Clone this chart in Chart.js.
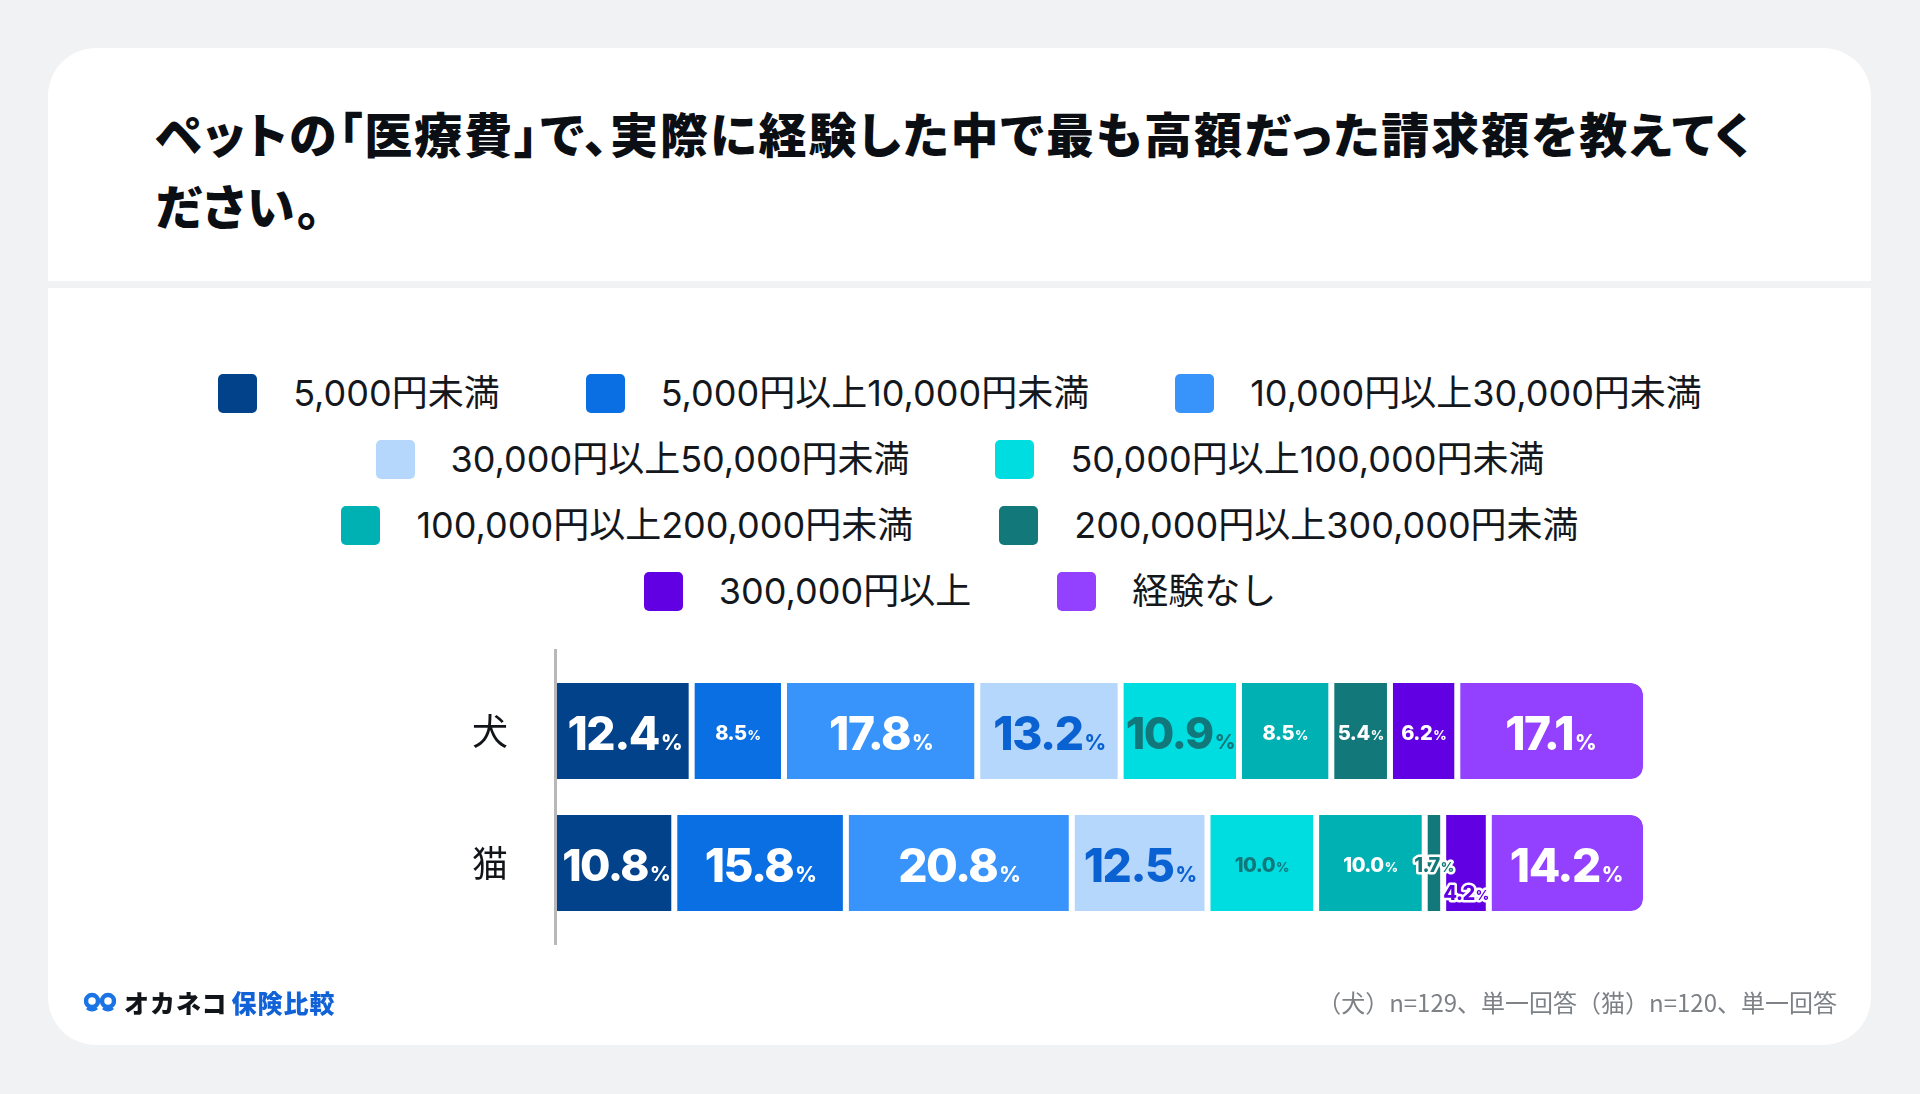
<!DOCTYPE html>
<html lang="ja">
<head>
<meta charset="utf-8">
<script src="https://cdn.jsdelivr.net/npm/chart.js@4.4.1/dist/chart.umd.min.js"></script>
<style>
html,body{margin:0;padding:0;width:1920px;height:1094px;background:#f1f2f4;overflow:hidden;font-family:"Inter","Noto Sans CJK JP",sans-serif;}
#card{position:absolute;left:48px;top:48px;width:1823px;height:997px;background:#fff;border-radius:48px;overflow:hidden;}
#stripe{position:absolute;left:0;top:233px;width:100%;height:7px;background:#f1f2f4;}
#title{position:absolute;left:107px;top:48px;margin:0;font-family:"Noto Sans CJK JP",sans-serif;font-weight:900;font-size:48px;line-height:72px;letter-spacing:2px;color:#0b0f14;font-feature-settings:"palt";white-space:nowrap;}
#legend{position:absolute;left:0;top:360px;width:1920px;}
.lrow{display:flex;justify-content:center;align-items:center;height:66px;gap:86px;}
.litem{display:flex;align-items:center;}
.lbox{width:39px;height:39px;border-radius:5px;margin-right:36px;flex:none;}
.ltext{font-family:"Inter","Noto Sans CJK JP",sans-serif;font-size:36px;line-height:1;color:#14181d;white-space:nowrap;}
#chartWrap{position:absolute;left:0;top:590px;width:1920px;height:414px;}
#logo{position:absolute;left:84px;top:985px;height:34px;display:flex;align-items:center;font-family:"Noto Sans CJK JP",sans-serif;font-weight:900;font-size:25px;letter-spacing:1px;}
#logo .k{color:#111418;margin-left:8px;}
#logo .h{color:#1062d6;margin-left:4px;}
#note{position:absolute;right:83px;top:986px;height:32px;line-height:32px;font-family:"Noto Sans CJK JP",sans-serif;font-size:24px;color:#7d8186;white-space:nowrap;}
</style>
</head>
<body>
<div id="card">
  <h1 id="title">ペットの「医療費」で、実際に経験した中で最も高額だった請求額を教えてく<br>ださい。</h1>
  <div id="stripe"></div>
</div>
<div id="legend"></div>
<div id="chartWrap"><canvas id="chart"></canvas></div>
<div id="logo">
  <svg width="32" height="22" viewBox="0 0 32 22"><circle cx="8" cy="10" r="6" fill="none" stroke="#1b74e4" stroke-width="4.5"/><circle cx="24" cy="10" r="6" fill="none" stroke="#1b74e4" stroke-width="4.5"/><path d="M3 17 Q8 21 13 17 M19 17 Q24 21 29 17" fill="none" stroke="#1b74e4" stroke-width="3"/></svg>
  <span class="k">オカネコ</span><span class="h">保険比較</span>
</div>
<div id="note">（犬）n=129、単一回答（猫）n=120、単一回答</div>
<script>
// ---- data ----
const categories = ['犬', '猫'];
const seriesLabels = [
  '5,000円未満',
  '5,000円以上10,000円未満',
  '10,000円以上30,000円未満',
  '30,000円以上50,000円未満',
  '50,000円以上100,000円未満',
  '100,000円以上200,000円未満',
  '200,000円以上300,000円未満',
  '300,000円以上',
  '経験なし'
];
const dogValues = [12.4, 8.5, 17.8, 13.2, 10.9, 8.5, 5.4, 6.2, 17.1];
const catValues = [10.8, 15.8, 20.8, 12.5, 10.0, 10.0, 1.7, 4.2, 14.2];

// ---- styles ----
const seriesColors = ['#02428b', '#0a6fe2', '#3894fa', '#b6d7fc', '#00dde1', '#00b1b3', '#12787a', '#6200e4', '#9340ff'];
const labelColors  = ['#ffffff', '#ffffff', '#ffffff', '#0a62d2', '#12777a', '#ffffff', '#ffffff', '#ffffff', '#ffffff'];
const legendRows = [3, 2, 2, 2];

const lastIdx = seriesLabels.length - 1;
const datasets = seriesLabels.map((label, i) => ({
  label: label,
  data: [dogValues[i], catValues[i]],
  backgroundColor: seriesColors[i],
  borderColor: '#ffffff',
  borderWidth: {top: 0, bottom: 0, left: i === 0 ? 0 : 3, right: i === lastIdx ? 0 : 3},
  borderSkipped: false,
  borderRadius: i === lastIdx ? {topLeft: 0, bottomLeft: 0, topRight: 12, bottomRight: 12} : 0,
  barThickness: 96,
  inflateAmount: 0
}));

const axisLinePlugin = {
  id: 'axisLine',
  beforeDatasetsDraw(chart) {
    const {ctx, chartArea} = chart;
    ctx.save();
    ctx.strokeStyle = '#b8b8b8';
    ctx.lineWidth = 3;
    ctx.beginPath();
    ctx.moveTo(chartArea.left - 1.5, chartArea.top - 16);
    ctx.lineTo(chartArea.left - 1.5, chartArea.bottom + 16);
    ctx.stroke();
    ctx.restore();
  }
};

const segLabelPlugin = {
  id: 'segLabels',
  afterDatasetsDraw(chart) {
    const ctx = chart.ctx;
    chart.data.labels.forEach((cat, j) => {
      let prevOutlined = false;
      chart.data.datasets.forEach((ds, i) => {
        const el = chart.getDatasetMeta(i).data[j];
        const v = ds.data[j];
        const big = v >= 10.5;
        let numSize = big ? 46 : 20;
        let pctSize = big ? 21 : 13;
        const numText = v.toFixed(1);
        const left = Math.min(el.x, el.base), right = Math.max(el.x, el.base);
        const segW = right - left - 6;
        const cx = (left + right) / 2;
        ctx.save();
        const measure = () => {
          ctx.letterSpacing = big ? '-1.5px' : '-0.5px';
          ctx.font = `800 ${numSize}px Inter, sans-serif`;
          const wn = ctx.measureText(numText).width;
          ctx.font = `800 ${pctSize}px Inter, sans-serif`;
          const wp = ctx.measureText('%').width;
          return [wn, wp];
        };
        let [wNum, wPct] = measure();
        const gap = big ? 2 : 1;
        let total = wNum + gap + wPct;
        if (big && total > segW - 4) {
          const f = (segW - 4) / total;
          numSize *= f; pctSize *= f;
          [wNum, wPct] = measure();
          total = wNum + gap + wPct;
        }
        const outlined = !big && total > segW;
        let cy = el.y + 2;
        if (outlined && prevOutlined) cy += 28;
        const baseY = cy + numSize * 0.727 / 2;
        const x0 = cx - total / 2;
        ctx.textAlign = 'left';
        ctx.textBaseline = 'alphabetic';
        const parts = [
          {t: numText, size: numSize, x: x0},
          {t: '%', size: pctSize, x: x0 + wNum + gap}
        ];
        parts.forEach(p => {
          ctx.font = `800 ${p.size}px Inter, sans-serif`;
          if (outlined) {
            ctx.strokeStyle = '#ffffff';
            ctx.lineWidth = 5;
            ctx.lineJoin = 'round';
            ctx.strokeText(p.t, p.x, baseY);
            ctx.fillStyle = seriesColors[i];
          } else {
            ctx.fillStyle = labelColors[i];
          }
          ctx.fillText(p.t, p.x, baseY);
        });
        ctx.restore();
        prevOutlined = outlined;
      });
    });
  }
};

const htmlLegendPlugin = {
  id: 'htmlLegend',
  afterUpdate(chart) {
    const box = document.getElementById('legend');
    box.innerHTML = '';
    const items = chart.data.datasets;
    let k = 0;
    legendRows.forEach(count => {
      const row = document.createElement('div');
      row.className = 'lrow';
      for (let c = 0; c < count && k < items.length; c++, k++) {
        const it = document.createElement('div');
        it.className = 'litem';
        const sw = document.createElement('span');
        sw.className = 'lbox';
        sw.style.background = items[k].backgroundColor;
        const tx = document.createElement('span');
        tx.className = 'ltext';
        tx.textContent = items[k].label;
        it.appendChild(sw);
        it.appendChild(tx);
        row.appendChild(it);
      }
      box.appendChild(row);
    });
  }
};

new Chart(document.getElementById('chart'), {
  type: 'bar',
  data: {labels: categories, datasets: datasets},
  options: {
    indexAxis: 'y',
    responsive: true,
    maintainAspectRatio: false,
    animation: false,
    layout: {padding: {top: 75, bottom: 75, left: 0, right: 277}},
    scales: {
      x: {stacked: true, min: 0, max: 100, display: false},
      y: {
        stacked: true,
        grid: {display: false, drawTicks: false},
        border: {display: false},
        ticks: {padding: 49, color: '#111418', font: {family: '"Noto Sans CJK JP", sans-serif', size: 36}},
        afterFit(scale) { scale.width = 557; }
      }
    },
    plugins: {legend: {display: false}, tooltip: {enabled: false}}
  },
  plugins: [axisLinePlugin, segLabelPlugin, htmlLegendPlugin]
});
</script>
</body>
</html>
